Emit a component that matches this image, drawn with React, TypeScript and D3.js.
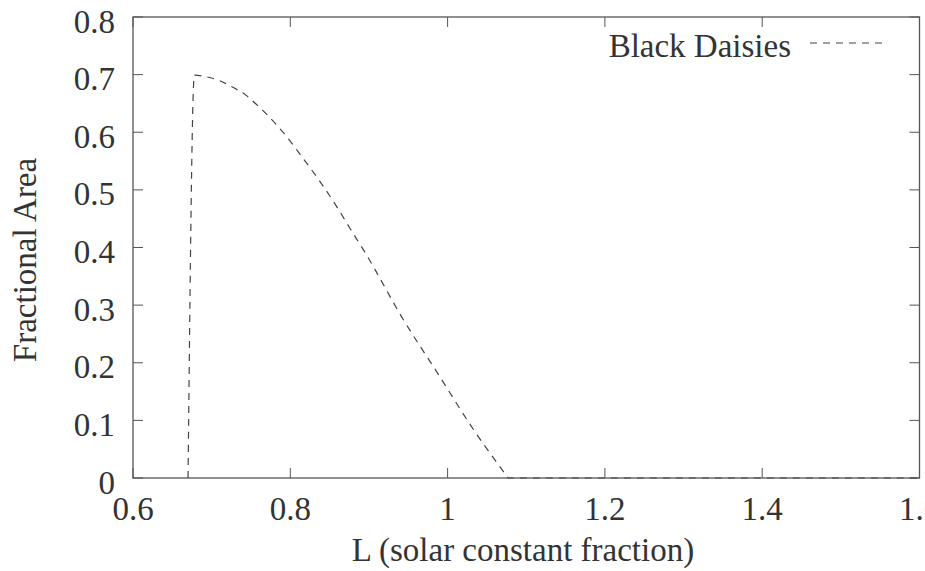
import React from "react";
import * as d3 from "d3";

const lValues = [0.670, 0.678, 0.694, 0.711, 0.727, 0.744, 0.758, 0.770, 0.783, 0.795, 0.816, 0.838, 0.859, 0.876, 0.897, 0.941, 0.990, 1.030, 1.077, 1.2, 1.4, 1.6];
const blackDaisies = [0, 0.699, 0.696, 0.689, 0.678, 0.664, 0.647, 0.631, 0.612, 0.593, 0.555, 0.514, 0.471, 0.433, 0.387, 0.281, 0.176, 0.090, 0, 0, 0, 0];
const xTicks = [0.6, 0.8, 1.0, 1.2, 1.4, 1.6];
const yTicks = [0, 0.1, 0.2, 0.3, 0.4, 0.5, 0.6, 0.7, 0.8];
const seriesName = "Black Daisies";
const xTitle = "L (solar constant fraction)";
const yTitle = "Fractional Area";

const W = 925, H = 571;
const left = 133, right = 919.5, top = 17, bottom = 478;
const FONT = "'Liberation Serif', 'Times New Roman', serif";
const TXT = "#333";
const AX = "#555";
const FS = 33;

export default function App() {
  const x = d3.scaleLinear().domain([0.6, 1.6]).range([left, right]);
  const y = d3.scaleLinear().domain([0, 0.8]).range([bottom, top]);
  const pts: [number, number][] = lValues.map((l, i) => [l, blackDaisies[i]]);
  // split where the curve reaches zero: smooth part, then a straight run along zero
  let zeroIdx = pts.findIndex((p, i) => i > 1 && p[1] === 0);
  if (zeroIdx < 0) zeroIdx = pts.length - 1;
  const smoothPts = pts.slice(0, zeroIdx + 1);
  const flatPts = pts.slice(zeroIdx);
  const smooth = d3.line<[number, number]>().x(d => x(d[0])).y(d => y(d[1])).curve(d3.curveMonotoneX);
  const flat = d3.line<[number, number]>().x(d => x(d[0])).y(d => y(d[1]));
  const flatD = (flat(flatPts) || "").replace(/^M[^L]*/, "");
  const d = (smooth(smoothPts) || "") + flatD;
  const tl = 10;
  const fmt = (v: number) => (v === 0 ? "0" : v === 1 ? "1" : String(+v.toFixed(1)));
  return (
    <div style={{ position: "fixed", left: 0, top: 0, width: W, height: H, background: "#fff" }}>
      <svg width={W} height={H} style={{ display: "block", overflow: "hidden" }}>
        <rect x={0} y={0} width={W} height={H} fill="#fff" />
        {yTicks.map(t => (
          <g key={"y" + t}>
            <line x1={left} x2={left + tl} y1={y(t)} y2={y(t)} stroke={AX} strokeWidth={1} />
            <line x1={right} x2={right - tl} y1={y(t)} y2={y(t)} stroke={AX} strokeWidth={1} />
            <text x={left - 18} y={y(t) + 15.5} textAnchor="end" fontFamily={FONT} fontSize={FS} fill={TXT}>{fmt(t)}</text>
          </g>
        ))}
        {xTicks.map(t => (
          <g key={"x" + t}>
            <line x1={x(t)} x2={x(t)} y1={bottom} y2={bottom - tl} stroke={AX} strokeWidth={1} />
            <line x1={x(t)} x2={x(t)} y1={top} y2={top + tl} stroke={AX} strokeWidth={1} />
            <text x={x(t)} y={520} textAnchor="middle" fontFamily={FONT} fontSize={FS} fill={TXT}>{fmt(t)}</text>
          </g>
        ))}
        <rect x={left} y={top} width={right - left} height={bottom - top} fill="none" stroke={AX} strokeWidth={1.3} />
        <path d={d} fill="none" stroke="#444" strokeWidth={1.2} strokeDasharray="7,6" />
        <text x={791} y={57} textAnchor="end" fontFamily={FONT} fontSize={FS} fill={TXT}>{seriesName}</text>
        <line x1={810} x2={888} y1={43} y2={43} stroke="#444" strokeWidth={1.2} strokeDasharray="7,6" />
        <text x={523} y={561} textAnchor="middle" fontFamily={FONT} fontSize={FS} fill={TXT}>{xTitle}</text>
        <text transform={`translate(36,260) rotate(-90)`} textAnchor="middle" fontFamily={FONT} fontSize={FS} fill={TXT}>{yTitle}</text>
      </svg>
    </div>
  );
}
